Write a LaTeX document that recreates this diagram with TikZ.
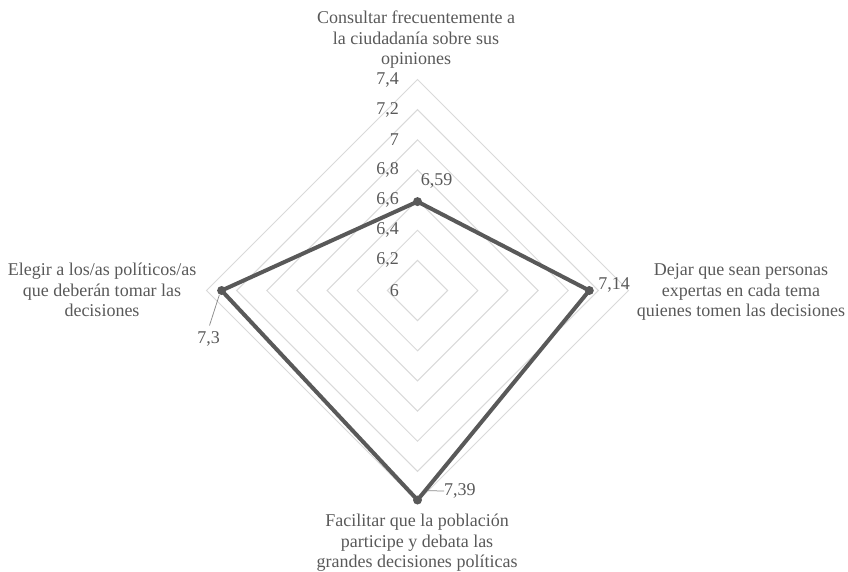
\documentclass[tikz,border=0pt]{standalone}
\usepackage{fontspec}
\setmainfont{Liberation Serif}
\definecolor{txtgray}{HTML}{595959}
\definecolor{gridgray}{HTML}{D9D9D9}
\definecolor{datagray}{HTML}{595959}
\begin{document}
\begin{tikzpicture}[x=1pt,y=-1pt,
  font=\fontsize{18}{20.5}\selectfont,
  txt/.style={text=txtgray, align=center, inner sep=0pt},
  tick/.style={text=txtgray, anchor=east, inner sep=0pt},
  gridline/.style={draw=gridgray, line width=1pt},
  dataline/.style={draw=datagray, line width=4pt, line join=miter},
  marker/.style={circle, fill=datagray, minimum size=9pt, inner sep=0pt},
  leader/.style={draw=txtgray!70, line width=0.75pt}]
\useasboundingbox (0,0) rectangle (848,571);
\def\cx{417.5}
\def\cy{290.5}
% grid rings
\foreach \i in {1,...,7} {
  \pgfmathsetmacro{\r}{\i*211/7}
  \draw[gridline] (\cx,\cy-\r) -- (\cx+\r,\cy) -- (\cx,\cy+\r) -- (\cx-\r,\cy) -- cycle;
}
% tick labels
\node[tick] (t0) at (399,\cy) {6};
\node[tick] (t1) at (399,\cy-30.14) {6,2};
\node[tick] (t2) at (399,\cy-60.29) {6,4};
\node[tick] (t3) at (399,\cy-90.43) {6,6};
\node[tick] (t4) at (399,\cy-120.57) {6,8};
\node[tick] (t5) at (399,\cy-150.71) {7};
\node[tick] (t6) at (399,\cy-180.86) {7,2};
\node[tick] (t7) at (399,\cy-211) {7,4};
% data points
\node[marker] (pT) at (417.5,201.6) {};
\node[marker] (pR) at (589.3,290.5) {};
\node[marker] (pB) at (417.5,500.0) {};
\node[marker] (pL) at (221.6,290.5) {};
\draw[dataline] (pT.center) -- (pR.center) -- (pB.center) -- (pL.center) -- cycle;
% data labels
\node[txt] (lT) at (436.7,181) {6,59};
\node[txt] (lR) at (614,285) {7,14};
\node[txt] (lL) at (208.5,339) {7,3};
\node[txt, anchor=west] (lB) at (444,491) {7,39};
\coordinate (cL) at (219.3,295);
\coordinate (cB) at (428,490.7);
\draw[leader] (lL.north) ++(1,-6) -- (cL);
\draw[leader] (cB) -- (lB.west);
% category labels
\node[txt] (cT) at (416,40) {Consultar frecuentemente a\\la ciudadanía sobre sus\\opiniones};
\node[txt] (cRt) at (741,292) {Dejar que sean personas\\expertas en cada tema\\quienes tomen las decisiones};
\node[txt] (cLt) at (102,290) {Elegir a los/as políticos/as\\que deberán tomar las\\decisiones};
\node[txt] (cBt) at (417,543) {Facilitar que la población\\participe y debata las\\grandes decisiones políticas};
\end{tikzpicture}
\end{document}
